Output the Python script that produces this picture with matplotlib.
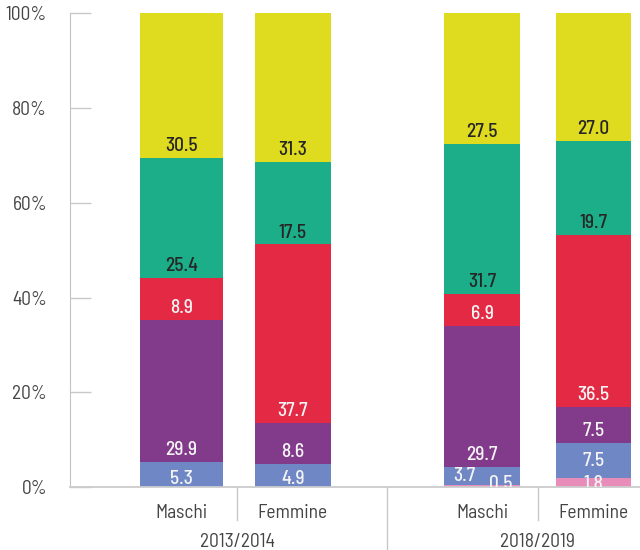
import matplotlib
matplotlib.use("Agg")
from matplotlib import pyplot as plt
from matplotlib import transforms

plt.rcParams['font.family'] = ['Barlow Semi Condensed', 'DejaVu Sans']

# data (percentages, bottom -> top)
groups = ['2013/2014', '2018/2019']
sexes = ['Maschi', 'Femmine', 'Maschi', 'Femmine']
pink = [0.0, 0.0, 0.5, 1.8]
blue = [5.3, 4.9, 3.7, 7.5]
purple = [29.9, 8.6, 29.7, 7.5]
red = [8.9, 37.7, 6.9, 36.5]
green = [25.4, 17.5, 31.7, 19.7]
yellow = [30.5, 31.3, 27.5, 27.0]

series = [pink, blue, purple, red, green, yellow]
colors = ['#E88DBA', '#6F87C4', '#823A8B', '#E42945', '#1BAE88', '#DFDC1F']
text_colors = ['#f4f4f4', '#f4f4f4', '#f4f4f4', '#f4f4f4', '#262626', '#262626']

pos = [0, 1, 2.7, 3.7]
widths = [0.75, 0.68, 0.68, 0.68]

fig = plt.figure(figsize=(6.4, 5.5), dpi=100)
ax = fig.add_axes([70 / 640, 1 - 487 / 550, 1 - 70 / 640, (487 - 13.3) / 550])

fs = 14
bottoms = [0.0] * 4
for k, vals in enumerate(series):
    ax.bar(pos, vals, width=widths, bottom=bottoms, color=colors[k], linewidth=0, zorder=1)
    for i, v in enumerate(vals):
        if v <= 0:
            continue
        dx, dy, clip = 0, 5, False
        if k == 0:
            dy, clip = -1.5, True
            if i == 2:
                dx = 13.5
        elif k == 1:
            dy = 2.5
            if i == 2:
                dx = -13
            if i == 3:
                dy = 9
        ax.annotate(f"{v:.1f}", xy=(pos[i], bottoms[i]), xytext=(dx, dy),
                    textcoords='offset points', ha='center', va='baseline',
                    fontsize=fs, fontweight=500, color=text_colors[k],
                    clip_on=clip, zorder=3)
    bottoms = [b + v for b, v in zip(bottoms, vals)]

ax.set_xlim(-1.0, 4.117)
ax.set_ylim(0, 100)
ax.set_yticks(range(0, 101, 20))
ax.set_yticklabels([f"{v}%" for v in range(0, 101, 20)])
ax.set_xticks([])
ax.tick_params(axis='y', direction='in', length=15, width=1, color='#c8c8c8',
               pad=16.5, labelsize=fs, labelcolor='#444444')
for s in ['top', 'right']:
    ax.spines[s].set_visible(False)
ax.spines['left'].set_color('#c4c4c4')
ax.spines['bottom'].set_color('#cccccc')
ax.spines['bottom'].set_linewidth(1.3)

# category labels and separators below the axis
trans = transforms.blended_transform_factory(ax.transData, fig.transFigure)
y_axis = 1 - 487 / 550
for p, s in zip(pos, sexes):
    ax.text(p, 1 - 518 / 550, s, transform=trans, ha='center', va='baseline',
            fontsize=fs, color='#444444', clip_on=False)
inner = [(pos[0] + pos[1]) / 2, (pos[2] + pos[3]) / 2]
for x, g in zip(inner, groups):
    ax.text(x, 1 - 547.3 / 550, g, transform=trans, ha='center', va='baseline',
            fontsize=fs, color='#444444', clip_on=False)
    ax.plot([x, x], [y_axis, 1 - 520 / 550], transform=trans, color='#c8c8c8',
            lw=1, clip_on=False)
mid = ((pos[1] + widths[1] / 2) + (pos[2] - widths[2] / 2)) / 2
ax.plot([mid, mid], [y_axis, 0], transform=trans, color='#c8c8c8', lw=1, clip_on=False)

fig.savefig("out.png", dpi=100)
